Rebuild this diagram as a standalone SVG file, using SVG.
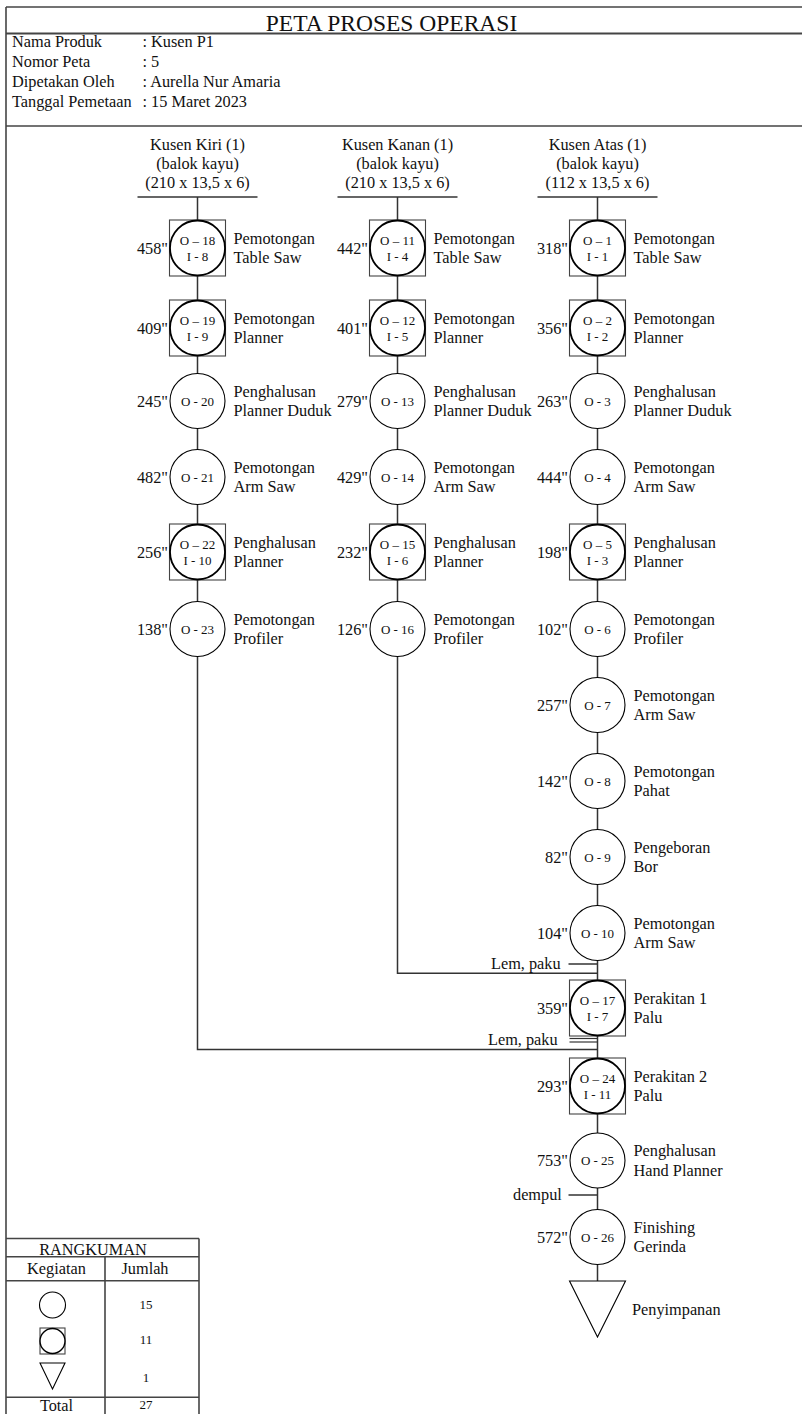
<svg xmlns="http://www.w3.org/2000/svg" width="802" height="1414" viewBox="0 0 802 1414">
<style>
text{font-family:"Liberation Serif","Times New Roman",serif;fill:#111}
.t{font-size:16.3px}
.ttl{font-size:23.5px}
.in{font-size:13px;text-anchor:middle}
.tm{font-size:16.3px;text-anchor:end}
.mid{text-anchor:middle}
.frame{stroke:#444;stroke-width:1.6;fill:none}
.ln{stroke:#333;stroke-width:1.5;fill:none}
.sq{fill:#fff;stroke:#444;stroke-width:1.1}
.cb{fill:#fff;stroke:#000;stroke-width:1.8}
.co{fill:#fff;stroke:#000;stroke-width:1.1}
.tri{fill:#fff;stroke:#000;stroke-width:1.1}
.num{font-size:13px;text-anchor:middle}
</style>

<g id="frame">
<line class="frame" x1="6" y1="7" x2="802" y2="7"/>
<line class="frame" x1="6" y1="7" x2="6" y2="1414"/>
<line class="frame" x1="6" y1="33.5" x2="802" y2="33.5" style="stroke-width:2"/>
<line class="frame" x1="6" y1="126" x2="802" y2="126"/>
<text class="ttl mid" x="391.5" y="31">PETA PROSES OPERASI</text>
<text class="t" x="12" y="46.5">Nama Produk</text>
<text class="t" x="142.5" y="46.5">: Kusen P1</text>
<text class="t" x="12" y="66.5">Nomor Peta</text>
<text class="t" x="142.5" y="66.5">: 5</text>
<text class="t" x="12" y="87">Dipetakan Oleh</text>
<text class="t" x="142.5" y="87">: Aurella Nur Amaria</text>
<text class="t" x="12" y="107">Tanggal Pemetaan</text>
<text class="t" x="142.5" y="107">: 15 Maret 2023</text>
</g>

<g id="material-kiri">
<text class="t mid" x="197.5" y="150">Kusen Kiri (1)</text>
<text class="t mid" x="197.5" y="169">(balok kayu)</text>
<text class="t mid" x="197.5" y="188">(210 x 13,5 x 6)</text>
<line class="ln" x1="137.5" y1="197" x2="257.5" y2="197"/>
</g>
<g id="material-kanan">
<text class="t mid" x="397.5" y="150">Kusen Kanan (1)</text>
<text class="t mid" x="397.5" y="169">(balok kayu)</text>
<text class="t mid" x="397.5" y="188">(210 x 13,5 x 6)</text>
<line class="ln" x1="337.5" y1="197" x2="457.5" y2="197"/>
</g>
<g id="material-atas">
<text class="t mid" x="597.5" y="150">Kusen Atas (1)</text>
<text class="t mid" x="597.5" y="169">(balok kayu)</text>
<text class="t mid" x="597.5" y="188">(112 x 13,5 x 6)</text>
<line class="ln" x1="537.5" y1="197" x2="657.5" y2="197"/>
</g>

<g id="connectors">
<polyline class="ln" points="197.5,197 197.5,1049.5 597.5,1049.5"/>
<polyline class="ln" points="397.5,197 397.5,973.3 597.5,973.3"/>
<line class="ln" x1="597.5" y1="197" x2="597.5" y2="1281"/>
<line class="ln" x1="568.5" y1="964" x2="597.5" y2="964"/>
<line class="ln" x1="569.5" y1="1038.5" x2="597.5" y2="1038.5" style="stroke-width:1.2"/>
<line class="ln" x1="569.5" y1="1042" x2="597.5" y2="1042" style="stroke-width:1.2"/>
<line class="ln" x1="568.5" y1="1195" x2="597.5" y2="1195"/>
<text class="t" x="491" y="968.5">Lem, paku</text>
<text class="t" x="488" y="1044.5">Lem, paku</text>
<text class="t" x="513" y="1200">dempul</text>
</g>

<!-- Column 1 -->
<g id="O18" transform="translate(197.5,248)">
<rect class="sq" x="-28" y="-28" width="56" height="56"/><circle class="cb" r="27.5"/>
<text class="in" y="-3.5">O – 18</text><text class="in" y="12.7">I - 8</text>
<text class="tm" x="-29.5" y="5.5">458"</text>
<text class="t" x="36" y="-4.5">Pemotongan</text><text class="t" x="36" y="15">Table Saw</text>
</g>
<g id="O19" transform="translate(197.5,328)">
<rect class="sq" x="-28" y="-28" width="56" height="56"/><circle class="cb" r="27.5"/>
<text class="in" y="-3.5">O – 19</text><text class="in" y="12.7">I - 9</text>
<text class="tm" x="-29.5" y="5.5">409"</text>
<text class="t" x="36" y="-4.5">Pemotongan</text><text class="t" x="36" y="15">Planner</text>
</g>
<g id="O20" transform="translate(197.5,401)">
<circle class="co" r="27.5"/>
<text class="in" y="4.5">O - 20</text>
<text class="tm" x="-29.5" y="5.5">245"</text>
<text class="t" x="36" y="-4.5">Penghalusan</text><text class="t" x="36" y="15">Planner Duduk</text>
</g>
<g id="O21" transform="translate(197.5,477)">
<circle class="co" r="27.5"/>
<text class="in" y="4.5">O - 21</text>
<text class="tm" x="-29.5" y="5.5">482"</text>
<text class="t" x="36" y="-4.5">Pemotongan</text><text class="t" x="36" y="15">Arm Saw</text>
</g>
<g id="O22" transform="translate(197.5,552)">
<rect class="sq" x="-28" y="-28" width="56" height="56"/><circle class="cb" r="27.5"/>
<text class="in" y="-3.5">O – 22</text><text class="in" y="12.7">I - 10</text>
<text class="tm" x="-29.5" y="5.5">256"</text>
<text class="t" x="36" y="-4.5">Penghalusan</text><text class="t" x="36" y="15">Planner</text>
</g>
<g id="O23" transform="translate(197.5,629)">
<circle class="co" r="27.5"/>
<text class="in" y="4.5">O - 23</text>
<text class="tm" x="-29.5" y="5.5">138"</text>
<text class="t" x="36" y="-4.5">Pemotongan</text><text class="t" x="36" y="15">Profiler</text>
</g>

<!-- Column 2 -->
<g id="O11" transform="translate(397.5,248)">
<rect class="sq" x="-28" y="-28" width="56" height="56"/><circle class="cb" r="27.5"/>
<text class="in" y="-3.5">O – 11</text><text class="in" y="12.7">I - 4</text>
<text class="tm" x="-29.5" y="5.5">442"</text>
<text class="t" x="36" y="-4.5">Pemotongan</text><text class="t" x="36" y="15">Table Saw</text>
</g>
<g id="O12" transform="translate(397.5,328)">
<rect class="sq" x="-28" y="-28" width="56" height="56"/><circle class="cb" r="27.5"/>
<text class="in" y="-3.5">O – 12</text><text class="in" y="12.7">I - 5</text>
<text class="tm" x="-29.5" y="5.5">401"</text>
<text class="t" x="36" y="-4.5">Pemotongan</text><text class="t" x="36" y="15">Planner</text>
</g>
<g id="O13" transform="translate(397.5,401)">
<circle class="co" r="27.5"/>
<text class="in" y="4.5">O - 13</text>
<text class="tm" x="-29.5" y="5.5">279"</text>
<text class="t" x="36" y="-4.5">Penghalusan</text><text class="t" x="36" y="15">Planner Duduk</text>
</g>
<g id="O14" transform="translate(397.5,477)">
<circle class="co" r="27.5"/>
<text class="in" y="4.5">O - 14</text>
<text class="tm" x="-29.5" y="5.5">429"</text>
<text class="t" x="36" y="-4.5">Pemotongan</text><text class="t" x="36" y="15">Arm Saw</text>
</g>
<g id="O15" transform="translate(397.5,552)">
<rect class="sq" x="-28" y="-28" width="56" height="56"/><circle class="cb" r="27.5"/>
<text class="in" y="-3.5">O – 15</text><text class="in" y="12.7">I - 6</text>
<text class="tm" x="-29.5" y="5.5">232"</text>
<text class="t" x="36" y="-4.5">Penghalusan</text><text class="t" x="36" y="15">Planner</text>
</g>
<g id="O16" transform="translate(397.5,629)">
<circle class="co" r="27.5"/>
<text class="in" y="4.5">O - 16</text>
<text class="tm" x="-29.5" y="5.5">126"</text>
<text class="t" x="36" y="-4.5">Pemotongan</text><text class="t" x="36" y="15">Profiler</text>
</g>

<!-- Column 3 -->
<g id="O1" transform="translate(597.5,248)">
<rect class="sq" x="-28" y="-28" width="56" height="56"/><circle class="cb" r="27.5"/>
<text class="in" y="-3.5">O – 1</text><text class="in" y="12.7">I - 1</text>
<text class="tm" x="-29.5" y="5.5">318"</text>
<text class="t" x="36" y="-4.5">Pemotongan</text><text class="t" x="36" y="15">Table Saw</text>
</g>
<g id="O2" transform="translate(597.5,328)">
<rect class="sq" x="-28" y="-28" width="56" height="56"/><circle class="cb" r="27.5"/>
<text class="in" y="-3.5">O – 2</text><text class="in" y="12.7">I - 2</text>
<text class="tm" x="-29.5" y="5.5">356"</text>
<text class="t" x="36" y="-4.5">Pemotongan</text><text class="t" x="36" y="15">Planner</text>
</g>
<g id="O3" transform="translate(597.5,401)">
<circle class="co" r="27.5"/>
<text class="in" y="4.5">O - 3</text>
<text class="tm" x="-29.5" y="5.5">263"</text>
<text class="t" x="36" y="-4.5">Penghalusan</text><text class="t" x="36" y="15">Planner Duduk</text>
</g>
<g id="O4" transform="translate(597.5,477)">
<circle class="co" r="27.5"/>
<text class="in" y="4.5">O - 4</text>
<text class="tm" x="-29.5" y="5.5">444"</text>
<text class="t" x="36" y="-4.5">Pemotongan</text><text class="t" x="36" y="15">Arm Saw</text>
</g>
<g id="O5" transform="translate(597.5,552)">
<rect class="sq" x="-28" y="-28" width="56" height="56"/><circle class="cb" r="27.5"/>
<text class="in" y="-3.5">O – 5</text><text class="in" y="12.7">I - 3</text>
<text class="tm" x="-29.5" y="5.5">198"</text>
<text class="t" x="36" y="-4.5">Penghalusan</text><text class="t" x="36" y="15">Planner</text>
</g>
<g id="O6" transform="translate(597.5,629)">
<circle class="co" r="27.5"/>
<text class="in" y="4.5">O - 6</text>
<text class="tm" x="-29.5" y="5.5">102"</text>
<text class="t" x="36" y="-4.5">Pemotongan</text><text class="t" x="36" y="15">Profiler</text>
</g>
<g id="O7" transform="translate(597.5,705)">
<circle class="co" r="27.5"/>
<text class="in" y="4.5">O - 7</text>
<text class="tm" x="-29.5" y="5.5">257"</text>
<text class="t" x="36" y="-4.5">Pemotongan</text><text class="t" x="36" y="15">Arm Saw</text>
</g>
<g id="O8" transform="translate(597.5,781)">
<circle class="co" r="27.5"/>
<text class="in" y="4.5">O - 8</text>
<text class="tm" x="-29.5" y="5.5">142"</text>
<text class="t" x="36" y="-4.5">Pemotongan</text><text class="t" x="36" y="15">Pahat</text>
</g>
<g id="O9" transform="translate(597.5,857)">
<circle class="co" r="27.5"/>
<text class="in" y="4.5">O - 9</text>
<text class="tm" x="-29.5" y="5.5">82"</text>
<text class="t" x="36" y="-4.5">Pengeboran</text><text class="t" x="36" y="15">Bor</text>
</g>
<g id="O10" transform="translate(597.5,933)">
<circle class="co" r="27.5"/>
<text class="in" y="4.5">O - 10</text>
<text class="tm" x="-29.5" y="5.5">104"</text>
<text class="t" x="36" y="-4.5">Pemotongan</text><text class="t" x="36" y="15">Arm Saw</text>
</g>
<g id="O17" transform="translate(597.5,1008)">
<rect class="sq" x="-28" y="-28" width="56" height="56"/><circle class="cb" r="27.5"/>
<text class="in" y="-3.5">O – 17</text><text class="in" y="12.7">I - 7</text>
<text class="tm" x="-29.5" y="5.5">359"</text>
<text class="t" x="36" y="-4.5">Perakitan 1</text><text class="t" x="36" y="15">Palu</text>
</g>
<g id="O24" transform="translate(597.5,1086)">
<rect class="sq" x="-28" y="-28" width="56" height="56"/><circle class="cb" r="27.5"/>
<text class="in" y="-3.5">O – 24</text><text class="in" y="12.7">I - 11</text>
<text class="tm" x="-29.5" y="5.5">293"</text>
<text class="t" x="36" y="-4.5">Perakitan 2</text><text class="t" x="36" y="15">Palu</text>
</g>
<g id="O25" transform="translate(597.5,1160.5)">
<circle class="co" r="27.5"/>
<text class="in" y="4.5">O - 25</text>
<text class="tm" x="-29.5" y="5.5">753"</text>
<text class="t" x="36" y="-4.5">Penghalusan</text><text class="t" x="36" y="15">Hand Planner</text>
</g>
<g id="O26" transform="translate(597.5,1237)">
<circle class="co" r="27.5"/>
<text class="in" y="4.5">O - 26</text>
<text class="tm" x="-29.5" y="5.5">572"</text>
<text class="t" x="36" y="-4.5">Finishing</text><text class="t" x="36" y="15">Gerinda</text>
</g>
<g id="storage">
<polygon class="tri" points="569.5,1281 625.5,1281 597.5,1337"/>
<text class="t" x="632" y="1315">Penyimpanan</text>
</g>

<g id="summary">
<line class="frame" x1="6" y1="1238.5" x2="199" y2="1238.5"/>
<line class="frame" x1="6" y1="1256.7" x2="199" y2="1256.7"/>
<line class="frame" x1="6" y1="1280.7" x2="199" y2="1280.7"/>
<line class="frame" x1="6" y1="1397.3" x2="199" y2="1397.3"/>
<line class="frame" x1="105" y1="1256.7" x2="105" y2="1414"/>
<line class="frame" x1="199" y1="1238.5" x2="199" y2="1414"/>
<text class="t mid" x="93" y="1255">RANGKUMAN</text>
<text class="t mid" x="56.5" y="1274">Kegiatan</text>
<text class="t mid" x="145" y="1274">Jumlah</text>
<circle class="co" cx="52.5" cy="1305" r="13"/>
<text class="num" x="146" y="1308.5">15</text>
<rect class="sq" x="40" y="1328" width="25" height="26"/>
<circle class="cb" cx="52.5" cy="1341" r="12.5" style="stroke-width:1.4"/>
<text class="num" x="146" y="1343.5">11</text>
<polygon class="tri" points="40,1363 65,1363 52.5,1389"/>
<text class="num" x="146" y="1382">1</text>
<text class="t mid" x="56.5" y="1410.5">Total</text>
<text class="num" x="146" y="1408.5">27</text>
</g>
</svg>
